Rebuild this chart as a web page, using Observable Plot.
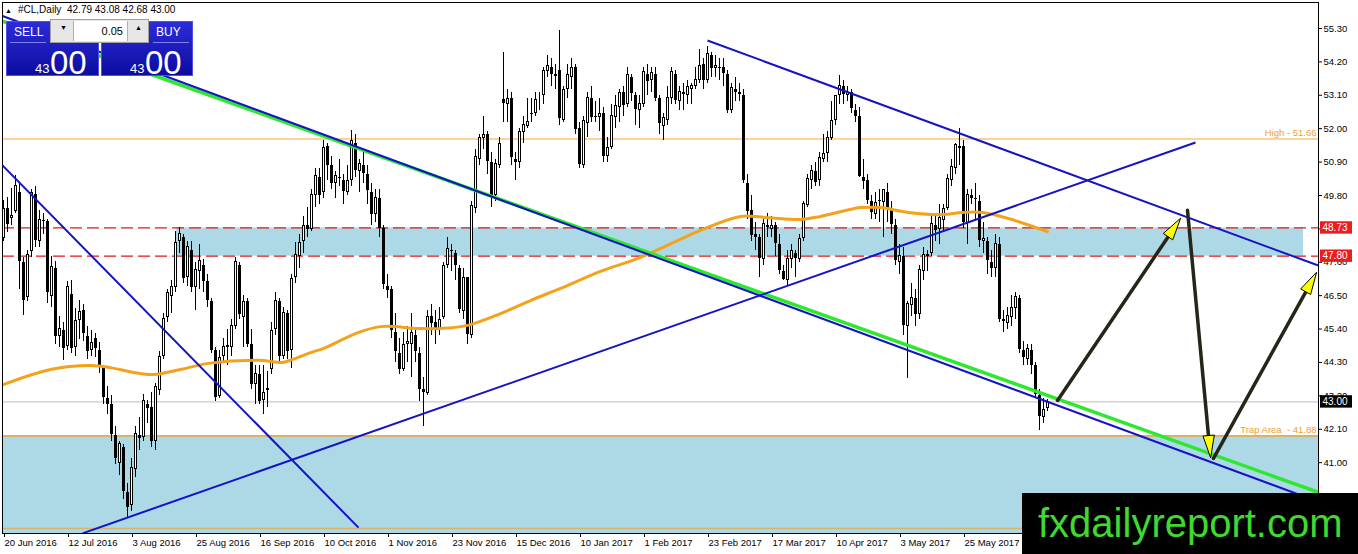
<!DOCTYPE html>
<html><head><meta charset="utf-8">
<script src="https://cdn.jsdelivr.net/npm/d3@7"></script>
<script src="https://cdn.jsdelivr.net/npm/@observablehq/plot@0.6"></script>
<style>
html,body{margin:0;padding:0;background:#fff;}
#wrap{position:relative;width:1358px;height:554px;overflow:hidden;font-family:"Liberation Sans",Arial,sans-serif;}
#chart svg{display:block;}
.ab{position:absolute;white-space:pre;}
.box{position:absolute;top:21px;height:55px;box-sizing:border-box;background:linear-gradient(#2c2cd8,#0c0ca0);border:1px solid #5050e8;}
.btxt{position:absolute;color:#fff;font-size:12px;line-height:12px;top:26px;}
.uline{position:absolute;top:42px;height:1px;width:36px;background:#8080f0;}
.spin{position:absolute;left:50px;top:19px;width:99px;height:24px;box-sizing:border-box;background:#e6e6e6;border:1px solid #a0a0a0;}
.inp{position:absolute;left:22px;top:1px;width:55px;height:20px;background:#fff;border-left:1px solid #b0b0b0;border-right:1px solid #b0b0b0;font-size:11px;line-height:20px;text-align:right;box-sizing:border-box;padding-right:4px;color:#000;}
.arr{position:absolute;top:4px;font-size:7px;color:#000;}
.big{position:absolute;color:#fff;font-size:33px;line-height:33px;top:46px;}
.small{position:absolute;color:#fff;font-size:13px;line-height:13px;top:62px;}
#wm{position:absolute;left:1022px;top:493px;width:336px;height:61px;background:#000;}
#wm span{position:absolute;left:16px;top:0;font-size:40px;line-height:61px;color:#3fd92f;font-family:"Liberation Sans",Arial,sans-serif;}
</style></head><body>
<div id="wrap">
<div id="chart"></div>
<div class="ab" style="left:5px;top:7px;font-size:7px;line-height:7px;">▲</div>
<div class="ab" style="left:18px;top:5px;font-size:10px;line-height:10px;">#CL,Daily</div>
<div class="ab" style="left:67px;top:5px;font-size:10px;line-height:10px;">42.79 43.08 42.68 43.00</div>
<div class="box" style="left:6px;width:93px;"></div>
<div class="box" style="left:101px;width:92px;"></div>
<div class="btxt" style="left:14px;">SELL</div>
<div class="uline" style="left:10px;"></div>
<div class="btxt" style="left:156px;">BUY</div>
<div class="uline" style="left:153px;"></div>
<div class="spin"><div class="arr" style="left:9px;">▼</div><div class="inp">0.05</div><div class="arr" style="left:84px;">▲</div></div>
<div class="small" style="left:35px;">43</div>
<div class="big" style="left:50px;">00</div>
<div class="small" style="left:130px;">43</div>
<div class="big" style="left:145px;">00</div>
<div id="wm"><span>fxdailyreport.com</span></div>
</div>
<script>
// ---- OHLC data, one bar per trading day from 20 Jun 2016 (index 0) ----
const opens = [
48.40,49.38,49.05,49.30,49.90,47.59,46.47,47.96,49.84,48.29,
48.98,48.95,46.50,47.40,45.17,45.35,44.85,46.55,44.80,45.70,
46.00,45.15,44.70,45.10,44.70,44.10,43.10,42.90,41.90,41.00,
41.50,40.00,39.60,40.80,41.90,41.85,42.90,42.80,41.70,43.40,
44.50,45.80,46.50,46.80,48.30,48.40,47.10,48.00,46.80,47.30,
47.50,46.95,46.30,44.70,43.20,44.50,44.80,44.80,45.50,47.50,
45.80,46.30,44.90,43.60,43.90,43.05,43.40,44.10,45.40,46.30,
44.50,45.90,44.70,47.10,47.80,48.30,48.80,48.70,49.80,50.40,
49.90,51.40,50.80,50.20,50.40,50.30,49.90,50.30,51.50,50.60,
50.80,50.50,49.90,49.20,49.70,48.70,46.80,46.70,45.30,44.60,
44.10,44.90,44.90,45.20,44.60,43.40,43.30,45.80,45.60,45.40,
45.80,47.50,48.00,47.90,47.40,46.00,47.10,45.20,49.40,51.00,
51.70,51.80,50.90,49.80,50.80,52.95,52.80,53.00,51.00,50.90,
51.90,52.10,52.50,52.50,53.00,53.10,53.90,54.00,53.80,53.90,
52.30,53.30,53.70,54.00,52.00,50.80,52.20,53.00,52.40,52.40,
52.50,51.10,51.40,52.40,52.70,53.20,52.80,53.70,53.10,52.60,
52.80,53.80,53.60,53.80,53.00,52.10,52.30,53.00,53.80,52.90,
53.20,53.10,53.30,53.40,53.60,54.10,53.60,54.40,54.00,54.00,
54.00,53.80,52.60,53.30,53.20,53.10,50.20,49.30,48.50,48.40,
47.70,48.80,48.70,48.80,48.20,47.30,47.00,47.70,47.90,47.70,
48.40,49.50,50.30,50.60,50.30,51.00,51.20,51.70,52.30,53.10,
53.40,53.10,53.20,52.60,52.40,50.40,50.30,49.60,49.20,49.60,
49.60,49.90,49.30,48.80,47.60,47.80,45.50,46.20,46.40,45.90,
47.30,47.80,47.90,48.80,48.70,49.00,49.40,50.30,50.70,51.40,
51.40,48.90,49.80,49.70,49.60,48.30,48.30,47.60,47.40,48.20,
45.70,45.60,45.80,46.10,46.40,44.70,44.40,44.70,44.20,43.20,
42.50,42.79];
const highs = [
49.64,49.72,50.04,50.45,50.19,47.76,47.98,50.00,50.08,49.31,
49.20,49.00,47.80,47.63,45.82,45.60,46.95,47.00,46.07,46.35,
46.20,45.50,45.35,45.25,44.95,44.20,43.50,43.20,42.20,41.70,
41.60,40.30,41.13,42.20,42.50,43.25,43.05,43.30,43.60,44.65,
45.92,46.70,47.00,48.60,48.75,48.50,48.30,48.30,47.60,48.20,
47.70,47.20,46.40,44.80,44.70,45.10,45.40,45.70,47.75,47.60,
46.50,46.40,45.40,44.20,44.20,44.20,44.00,45.60,46.60,46.40,
46.10,46.00,47.20,48.25,48.50,49.10,49.40,50.00,50.70,50.70,
51.60,51.50,51.10,50.60,51.00,50.50,50.80,51.93,51.80,51.00,
51.20,50.80,50.20,50.00,50.00,48.80,47.20,46.80,45.90,45.10,
45.30,45.50,45.90,45.40,44.80,43.80,46.00,46.20,46.00,46.10,
47.60,48.40,48.20,48.00,47.50,47.40,47.10,49.60,51.30,51.80,
52.40,51.90,51.20,51.00,51.70,54.51,53.30,53.20,51.20,52.00,
52.40,53.00,53.00,53.20,53.20,54.00,54.40,54.30,54.10,55.24,
53.40,54.10,54.30,54.10,52.20,52.40,53.20,53.40,52.90,53.00,
52.70,51.70,52.80,53.10,53.30,53.40,54.00,53.80,53.20,53.10,
54.00,54.10,54.00,54.00,53.10,52.50,53.40,54.00,53.90,53.40,
53.50,53.60,53.50,54.00,54.60,54.30,54.70,54.50,54.40,54.30,
54.30,53.90,53.50,53.70,53.50,53.30,50.50,49.80,48.90,48.50,
49.00,49.20,49.10,48.90,48.50,47.50,48.00,48.20,48.00,48.50,
49.60,50.50,50.80,50.90,51.20,51.80,51.90,52.90,53.10,53.76,
53.60,53.40,53.30,52.80,52.70,51.00,50.50,49.80,49.90,50.00,
50.00,50.20,49.60,49.00,48.20,48.10,46.30,46.90,46.70,47.50,
48.10,48.00,49.10,49.10,49.50,49.50,50.50,51.00,51.50,52.00,
51.60,50.00,50.00,50.20,49.80,48.90,48.40,48.00,48.50,48.40,
46.00,46.10,46.50,46.60,46.50,45.00,44.90,44.90,44.30,43.40,
43.10,43.08];
const lows = [
48.28,48.59,48.80,49.20,46.69,45.83,46.30,47.75,48.10,48.10,
48.50,46.25,46.10,44.88,44.78,44.35,44.70,44.60,44.50,45.05,
45.00,44.40,44.50,44.45,43.95,42.90,42.60,41.70,40.95,40.57,
39.80,39.19,39.40,40.50,41.40,41.70,42.30,41.50,41.40,43.20,
44.40,45.60,45.90,46.60,47.90,46.90,46.80,46.60,46.00,46.70,
46.60,46.10,44.60,43.00,43.10,44.30,44.20,44.50,45.40,45.70,
44.80,44.80,43.40,42.90,42.90,42.60,42.80,43.90,45.20,44.30,
44.40,44.40,44.10,46.90,47.40,47.90,48.40,48.60,49.40,49.50,
49.70,50.30,50.00,49.70,50.10,49.50,49.80,50.10,50.40,49.90,
50.20,49.50,48.80,48.90,48.40,46.70,46.40,45.10,44.30,43.90,
44.00,44.30,43.80,44.30,43.00,42.20,43.20,45.20,44.90,45.20,
45.70,47.40,47.30,47.00,45.90,45.70,44.90,45.10,49.20,50.80,
51.30,50.50,49.40,49.60,50.70,52.20,52.20,50.80,50.30,50.70,
51.50,52.00,52.20,52.40,52.60,52.80,53.70,53.40,53.30,52.11,
52.20,53.00,53.30,51.80,50.70,50.70,51.70,52.20,52.20,51.90,
50.90,50.90,51.30,52.00,52.20,52.40,52.70,52.90,52.10,52.00,
52.70,53.10,53.20,52.90,51.80,51.60,52.10,52.80,52.80,52.60,
52.60,52.80,52.80,53.30,53.50,53.30,53.50,53.70,53.70,53.60,
53.40,52.50,52.50,52.90,52.90,50.20,49.00,48.30,48.00,47.09,
47.50,48.40,48.40,47.80,47.20,47.01,46.80,47.40,47.10,47.60,
48.30,49.40,50.00,50.10,50.10,50.90,50.90,51.60,52.10,52.80,
52.80,52.90,52.50,52.20,50.40,50.00,49.50,49.00,49.00,48.90,
48.40,48.90,48.50,47.50,47.20,45.20,43.76,45.80,45.50,45.70,
47.00,47.30,47.80,48.30,48.20,48.60,49.30,50.10,50.50,50.80,
48.70,48.20,49.50,49.00,48.10,47.90,47.20,47.10,47.10,45.60,
45.30,45.40,45.50,45.70,44.60,44.20,44.20,43.90,43.10,42.05,
42.30,42.68];
const closes = [
49.37,48.85,49.13,50.11,47.64,46.33,47.85,49.88,48.33,48.99,
48.95,46.60,47.43,45.14,45.41,44.76,46.80,44.75,45.68,45.95,
45.24,44.65,44.94,44.75,44.19,43.13,42.92,41.92,41.14,41.60,
40.06,39.51,40.83,41.93,41.80,43.02,42.77,41.71,43.49,44.49,
45.74,46.58,46.79,48.22,48.52,47.05,48.10,46.77,47.33,47.64,
46.98,46.35,44.70,43.16,44.44,44.80,44.83,45.50,47.62,45.88,
46.29,44.90,43.58,43.91,43.03,43.30,43.44,45.34,46.32,44.48,
45.93,44.67,47.05,47.83,48.24,48.81,48.69,49.83,50.44,49.81,
51.35,50.79,50.18,50.44,50.35,49.94,50.29,51.60,50.63,50.85,
50.52,49.96,49.18,49.72,48.70,46.86,46.67,45.34,44.66,44.07,
44.89,44.98,45.27,44.66,43.41,43.32,45.81,45.57,45.42,45.69,
47.49,48.03,47.96,47.50,46.06,47.08,45.23,49.44,51.06,51.68,
51.79,50.93,49.77,50.84,51.50,52.83,52.98,51.04,50.90,51.90,
52.12,52.23,52.49,52.95,53.02,53.90,54.06,53.77,53.72,52.33,
53.26,53.76,53.99,51.96,50.82,52.25,53.01,52.37,52.40,52.48,
51.08,51.37,52.42,52.75,53.18,52.75,53.78,53.17,52.63,52.81,
53.88,53.54,53.83,53.01,52.17,52.34,53.00,53.86,52.93,53.20,
53.11,53.36,53.40,53.60,54.06,53.59,54.45,53.99,54.05,54.01,
53.83,52.61,53.33,53.20,53.14,50.28,49.28,48.49,48.40,47.72,
48.86,48.75,48.78,48.22,47.34,47.04,47.70,47.97,47.73,48.37,
49.51,50.35,50.60,50.24,51.03,51.15,51.70,52.24,53.08,53.40,
53.11,53.18,52.65,52.41,50.44,50.27,49.62,49.23,49.56,49.62,
49.97,49.33,48.84,47.66,47.82,45.52,46.22,46.43,45.88,47.33,
47.83,47.84,48.85,48.66,49.07,49.35,50.33,50.73,51.47,51.36,
48.90,49.80,49.70,49.66,48.32,48.36,47.66,47.40,48.19,45.72,
45.64,45.83,46.08,46.46,44.73,44.46,44.74,44.20,43.23,42.53,
42.74,43.00];

// ---- moving average: [bar index, price] ----
const maIndex = [-0.25,11.75,21.75,26.75,32.5,37.5,44.25,51.25,63.75,69.75,72.25,76.25,80.5,88,94.25,103.5,109.25,116,124.25,131.75,139.25,149.25,159.25,174.25,184.25,191,199.25,204.25,214.25,219.25,226.25,234.75,239.75,244.75,251.25,261];
const maValue = [43.56,44.07,44.20,44.13,43.97,43.90,44.07,44.27,44.37,44.30,44.40,44.60,44.79,45.25,45.48,45.42,45.42,45.52,45.91,46.34,46.74,47.30,47.76,48.65,49.11,49.07,49.01,49.11,49.40,49.40,49.24,49.17,49.24,49.24,49.04,48.61];

// ---- axis ticks ----
const priceTicks = [55.30,54.20,53.10,52.00,50.90,49.80,48.70,47.60,46.50,45.40,44.30,43.20,42.10,41.00,39.90];
const dateIdx = [0,16,32,48,64,80,96,112,128,144,160,176,192,208,224,240];
const dateLabels = ["20 Jun 2016","12 Jul 2016","3 Aug 2016","25 Aug 2016","16 Sep 2016","10 Oct 2016","1 Nov 2016","23 Nov 2016","15 Dec 2016","10 Jan 2017","1 Feb 2017","23 Feb 2017","17 Mar 2017","10 Apr 2017","3 May 2017","25 May 2017"];

// ---- drawn objects (bar index / price) ----
const redLevels = [48.73, 47.80];
const currentPrice = [43.00];
const highLevel = [51.66];
const trapLevel = [41.88];
const bottomLevel = [38.83];
const zoneX1 = [43.25, -0.25];
const zoneX2 = [325, 328.75];
const zoneLo = [47.80, 38.3];
const zoneHi = [48.73, 41.88];
const blueX1 = [-0.25, -0.25, 19.75, 176];
const blueY1 = [50.79, 55.71, 38.67, 54.905];
const blueX2 = [88.75, 328.75, 298, 328.75];
const blueY2 = [38.86, 39.71, 51.545, 47.49];
const greenX = [-0.25, 328.75];
const greenY = [55.54, 40.02];
const arrowX1 = [263.5, 296, 302.5];
const arrowY1 = [43.05, 49.31, 41.14];
const arrowX2 = [294.25, 301.75, 328.25];
const arrowY2 = [49.04, 41.17, 47.26];

// ---- layout ----
const W = 1358, H = 554, ML = 2, MR = 40, MT = 2, MB = 21;
const xDomain = [-0.25, 328.75];
const yDomain = [38.666, 56.156];
const kx = (W - ML - MR) / (xDomain[1] - xDomain[0]);
const ky = (H - MT - MB) / (yDomain[1] - yDomain[0]);

const bars = closes.map((c, i) => ({i, o: opens[i], h: highs[i], l: lows[i], c}));
const upBars = bars.filter(d => d.c > d.o + 0.02);
const downBars = bars.filter(d => d.c < d.o - 0.02);
const dojis = bars.filter(d => Math.abs(d.c - d.o) <= 0.02);
const ma = maIndex.map((x, k) => ({x, y: maValue[k]}));
const zones = zoneX1.map((x1, k) => ({x1, x2: zoneX2[k], y1: zoneLo[k], y2: zoneHi[k]}));
const blues = blueX1.map((x1, k) => ({x1, y1: blueY1[k], x2: blueX2[k], y2: blueY2[k]}));
const greens = [{x1: greenX[0], y1: greenY[0], x2: greenX[1], y2: greenY[1]}];
const arrows = arrowX1.map((x1, k) => ({x1, y1: arrowY1[k], x2: arrowX2[k], y2: arrowY2[k]}));

// arrow shafts and heads, shaped in pixels then mapped back through the scale factors
const shafts = [], heads = [];
arrows.forEach((a, k) => {
  const dxp = (a.x2 - a.x1) * kx, dyp = -(a.y2 - a.y1) * ky;
  const len = Math.hypot(dxp, dyp), ux = dxp / len, uy = dyp / len, nx = -uy, ny = ux;
  const L = 22, HW = 5.5;
  const toData = (px, py) => ({x: a.x2 + px / kx, y: a.y2 - py / ky, k});
  shafts.push({x1: a.x1, y1: a.y1, x2: a.x2 - ux * 12 / kx, y2: a.y2 + uy * 12 / ky});
  heads.push(toData(0, 0), toData(-ux * L + nx * HW, -uy * L + ny * HW), toData(-ux * L - nx * HW, -uy * L - ny * HW));
});

const halfBox = 6.2 / ky;
const boxX1 = xDomain[1] + 0.5, boxX2 = xDomain[1] + 8.5;
const redBoxes = redLevels.map(v => ({v}));
const curBoxes = currentPrice.map(v => ({v}));
const crisp = {shapeRendering: "crispEdges"};

const chart = Plot.plot({
  width: W, height: H,
  marginLeft: ML, marginRight: MR, marginTop: MT, marginBottom: MB,
  x: {domain: xDomain, axis: null},
  y: {domain: yDomain, axis: null},
  style: {fontFamily: "Liberation Sans, Arial, sans-serif", fontSize: "9.5px", color: "black", background: "white", overflow: "visible"},
  marks: [
    Plot.rect(zones, {x1: "x1", x2: "x2", y1: "y1", y2: "y2", fill: "#add8e6", clip: true}),
    Plot.ruleY(bottomLevel, {stroke: "#d8b36c", strokeWidth: 1.5}),
    Plot.ruleY(trapLevel, {stroke: "#d8b36c", strokeWidth: 2}),
    Plot.ruleY(highLevel, {stroke: "#f2a73a", strokeWidth: 1}),
    Plot.ruleY(currentPrice, {stroke: "#bdbdbd", strokeWidth: 1}),
    Plot.ruleY(redLevels, {stroke: "#e01818", strokeWidth: 1.2, strokeDasharray: "12,5"}),
    Plot.ruleX(bars, {x: "i", y1: "l", y2: "h", stroke: "black", strokeWidth: 1, ...crisp}),
    Plot.rect(downBars, {x1: d => d.i - 0.375, x2: d => d.i + 0.375, y1: "o", y2: "c", fill: "black", ...crisp}),
    Plot.rect(upBars, {x1: d => d.i - 0.25, x2: d => d.i + 0.25, y1: "o", y2: "c", fill: "white", stroke: "black", strokeWidth: 1, ...crisp}),
    Plot.link(dojis, {x1: d => d.i - 0.375, x2: d => d.i + 0.375, y1: "c", y2: "c", stroke: "black", ...crisp}),
    Plot.line(ma, {x: "x", y: "y", stroke: "#f5a21b", strokeWidth: 3, curve: "catmull-rom", clip: true}),
    Plot.link(greens, {x1: "x1", y1: "y1", x2: "x2", y2: "y2", stroke: "#2ee82e", strokeWidth: 3.5, clip: true}),
    Plot.link(blues, {x1: "x1", y1: "y1", x2: "x2", y2: "y2", stroke: "#1414c4", strokeWidth: 2, clip: true}),
    Plot.link(shafts, {x1: "x1", y1: "y1", x2: "x2", y2: "y2", stroke: "#262618", strokeWidth: 3.5, strokeLinecap: "round"}),
    Plot.line(heads, {x: "x", y: "y", z: "k", fill: "#ffff00", stroke: "black", strokeWidth: 1, curve: "linear-closed"}),
    Plot.text(highLevel, {x: xDomain[1], y: d => d, dx: -2, dy: -6, text: d => "High - " + d.toFixed(2), textAnchor: "end", fill: "#f0a030", fontSize: 9.5}),
    Plot.text(trapLevel, {x: xDomain[1], y: d => d, dx: -2, dy: -6, text: d => "Trap Area\u00a0 - " + d.toFixed(2), textAnchor: "end", fill: "#f0a030", fontSize: 9.5}),
    Plot.frame({stroke: "black", ...crisp}),
    Plot.axisY({anchor: "right", ticks: priceTicks, tickFormat: d => d.toFixed(2), tickSize: 3, tickPadding: 2, fontSize: 9.5}),
    Plot.axisX({anchor: "bottom", ticks: dateIdx, tickFormat: d => dateLabels[dateIdx.indexOf(d)], tickSize: 4, tickPadding: 2, textAnchor: "start", dx: 1, fontSize: 9.5}),
    Plot.rect(redBoxes, {x1: boxX1, x2: boxX2, y1: d => d.v - halfBox, y2: d => d.v + halfBox, fill: "#ee1c1c"}),
    Plot.text(redBoxes, {x: boxX1, dx: 2, y: "v", text: d => d.v.toFixed(2), textAnchor: "start", fill: "white", fontSize: 10}),
    Plot.rect(curBoxes, {x1: boxX1, x2: boxX2, y1: d => d.v - halfBox, y2: d => d.v + halfBox, fill: "black"}),
    Plot.text(curBoxes, {x: boxX1, dx: 2, y: "v", text: d => d.v.toFixed(2), textAnchor: "start", fill: "white", fontSize: 10})
  ]
});
document.getElementById("chart").appendChild(chart);
</script>
</body></html>
